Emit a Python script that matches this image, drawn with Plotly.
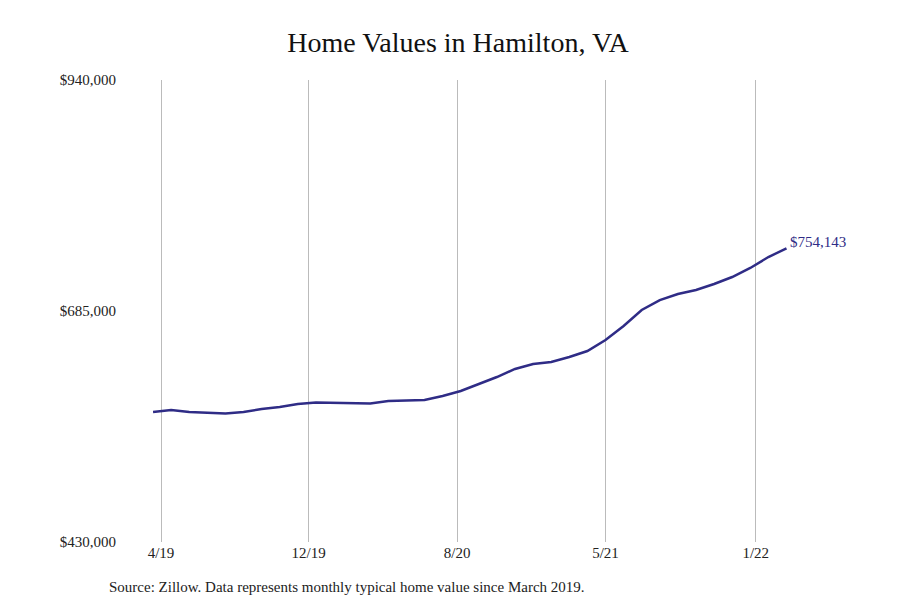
import plotly.graph_objects as go

values = [573500, 575700, 573500, 572400, 571800, 573500, 576800, 579000, 582300, 584000,
          583400, 583400, 582900, 585600, 586200, 586800, 591200, 596700, 604400, 612100,
          621000, 626500, 628700, 634200, 640800, 653000, 668400, 686100, 697100, 703800,
          708200, 714800, 722500, 732500, 744600, 754143]
idx = list(range(len(values)))
tick_pos = [0.44, 8.6, 16.8, 25.0, 33.3]
tick_text = ["4/19", "12/19", "8/20", "5/21", "1/22"]
y_ticks = [430000, 685000, 940000]
y_text = ["$430,000", "$685,000", "$940,000"]
color = "#2f2c86"
font = "Liberation Serif"

fig = go.Figure(go.Scatter(x=idx, y=values, mode="lines", line=dict(color=color, width=2.5),
                           hoverinfo="skip"))
fig.add_annotation(x=idx[-1], y=values[-1], text="$754,143", showarrow=False, xanchor="left",
                   xshift=2, yshift=6, font=dict(family=font, size=15, color=color))
fig.add_annotation(xref="paper", yref="paper", x=-0.023, y=-0.075, xanchor="left", yanchor="top",
                   showarrow=False, text="Source: Zillow. Data represents monthly typical home value since March 2019.",
                   font=dict(family=font, size=15, color="#222"))
fig.update_layout(
    width=900, height=600, plot_bgcolor="white", paper_bgcolor="white",
    margin=dict(l=115, r=75, t=72, b=66, autoexpand=False), showlegend=False,
    title=dict(text="Home Values in Hamilton, VA", x=0.5, xanchor="center", y=0.96,
               font=dict(family=font, size=28, color="#111")),
    xaxis=dict(range=[-1.66, 37.57], tickvals=tick_pos, ticktext=tick_text, showgrid=True,
               gridcolor="#bbbbbb", gridwidth=1, zeroline=False, showline=False, automargin=False,
               tickfont=dict(family=font, size=15, color="#222")),
    yaxis=dict(range=[430000, 940000], tickvals=y_ticks, ticktext=y_text, showgrid=False,
               zeroline=False, showline=False, ticklabelstandoff=6, automargin=False,
               tickfont=dict(family=font, size=15, color="#222")),
)
fig.write_html("out.html")
